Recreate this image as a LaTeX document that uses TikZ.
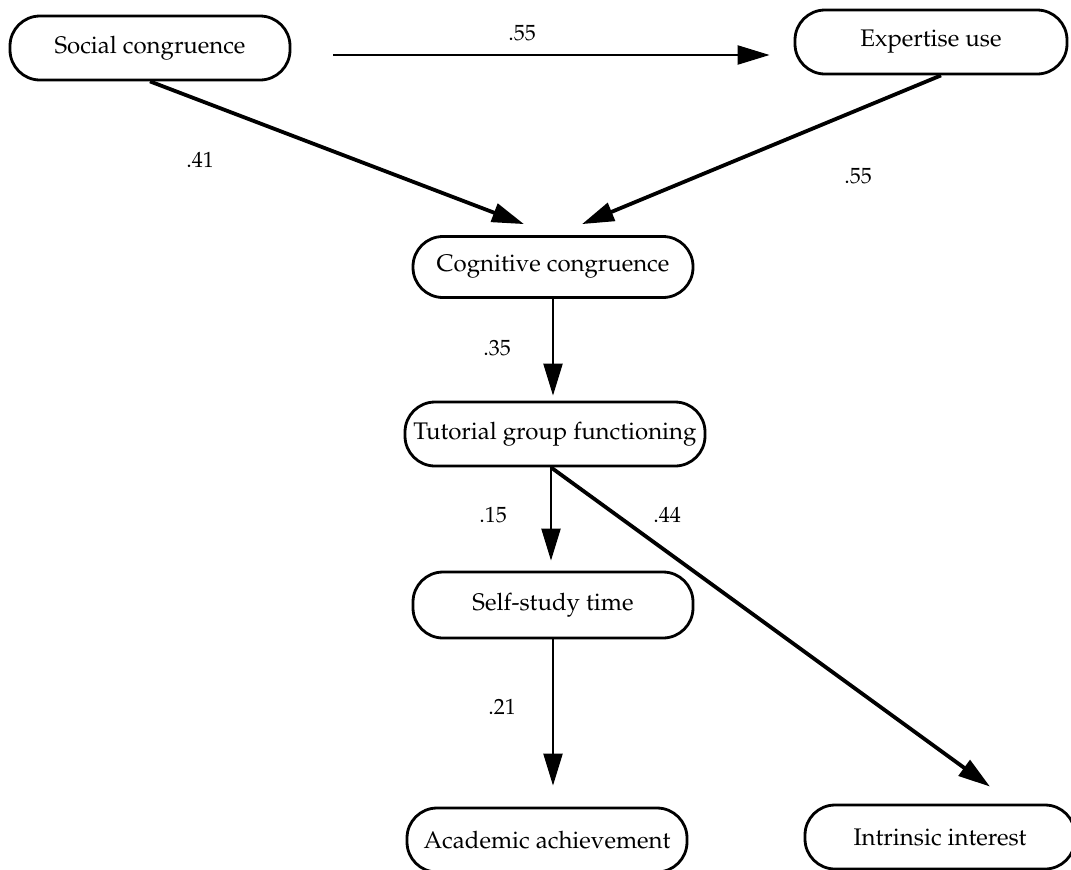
\documentclass[tikz,border=0pt]{standalone}
\usepackage[T1]{fontenc}
\usepackage{mathpazo}
\usetikzlibrary{arrows.meta,calc}

\begin{document}
\begin{tikzpicture}[
    x=0.5pt, y=-0.5pt,
    var/.style={rectangle, rounded corners=15pt, draw=black, line width=1.4pt, minimum height=32pt, inner sep=2pt, text centered, font=\fontsize{12}{14}\selectfont},
    path/.style={draw=black, line width=1.1pt, -{Triangle[length=16pt, width=9.5pt]}},
    heavy/.style={path, line width=1.9pt},
    coef/.style={font=\fontsize{11}{13}\selectfont}
]
\useasboundingbox (0,0) rectangle (1071,869);

% Variables
\node[var, minimum width=140pt] (soc) at (150,48) {Social congruence};
\node[var, minimum width=136pt] (exp) at (931,42) {Expertise use};
\node[var, minimum width=140pt, minimum height=30.5pt] (cog) at (553,267) {Cognitive congruence};
\node[var, minimum width=150pt] (tgf) at (555,434) {Tutorial group functioning};
\node[var, minimum width=140pt, minimum height=33pt] (ss) at (553,605) {Self-study time};
\node[var, minimum width=140pt] (aa) at (547,840) {Academic achievement};
\node[var, minimum width=135pt] (ii) at (940,837) {Intrinsic interest};

% Paths
\draw[path, shorten <=21pt, shorten >=12pt] ([yshift=-3.5pt]soc.east) -- ([yshift=-3.5pt]soc.east -| exp.west);
\draw[heavy] (soc.south) -- ($(cog.north)+(-29,-11)$);
\draw[heavy] ([xshift=5pt]exp.south) -- ($(cog.north)+(29,-11)$);
\draw[path, shorten >=2.5pt] (cog.south) -- (cog.south |- tgf.north);
\draw[path, shorten >=5pt] ([xshift=-2pt]tgf.south) -- ([xshift=-2pt]tgf.south |- ss.north);
\draw[path, shorten >=10.5pt] (ss.south) -- (ss.south |- aa.north);
\draw[heavy] ([xshift=-2pt]tgf.south) -- ($(ii.north)+(50,-17)$);

% Coefficients
\node[coef] (c1) at (522,33) {.55};
\node[coef] (c2) at (200,160) {.41};
\node[coef] (c3) at (858,176) {.55};
\node[coef] (c4) at (497,348) {.35};
\node[coef] (c5) at (493,515) {.15};
\node[coef] (c6) at (667,515) {.44};
\node[coef] (c7) at (502,707) {.21};

\end{tikzpicture}
\end{document}
